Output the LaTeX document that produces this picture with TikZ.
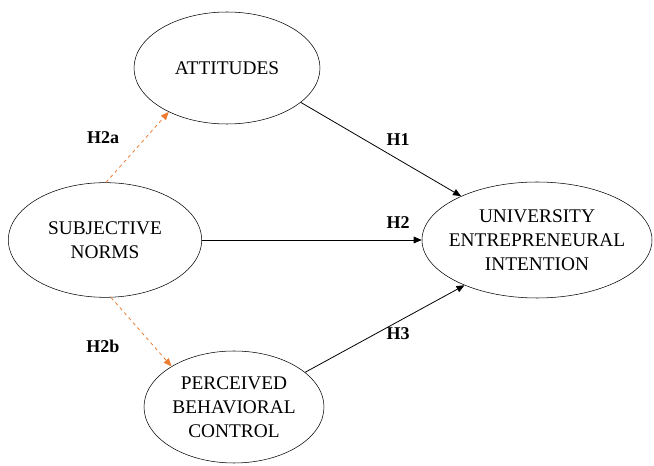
\documentclass[tikz,border=0pt]{standalone}
\usepackage{fontspec}
\setmainfont{Liberation Serif}
\usepackage{xcolor}
\usetikzlibrary{arrows.meta,shapes.geometric}
\definecolor{hypo}{RGB}{237,125,49}

\begin{document}
\begin{tikzpicture}[
  x=0.75pt, y=-0.75pt,
  construct/.style={draw, ellipse, align=center, inner xsep=-10pt, inner ysep=0pt, font=\fontsize{14.5}{18}\selectfont},
  arr/.style={-{Triangle[length=6pt,width=5pt]}, semithick},
  med/.style={-{Triangle[length=6pt,width=5pt]}, hypo, semithick, dash pattern=on 2.5pt off 2.5pt},
  lbl/.style={font=\bfseries\fontsize{13.5}{15}\selectfont},
]
\useasboundingbox (0,0) rectangle (654,466);

\node[construct, minimum width=139.5pt, minimum height=84pt] (att) at (227,68) {ATTITUDES};
\node[construct, minimum width=145pt, minimum height=86pt] (sn) at (105,240) {SUBJECTIVE\\NORMS};
\node[construct, minimum width=172.5pt, minimum height=87pt] (uei) at (537,240) {UNIVERSITY\\ENTREPRENEURAL\\INTENTION};
\node[construct, minimum width=135pt, minimum height=84pt] (pbc) at (234,407) {PERCEIVED\\BEHAVIORAL\\CONTROL};

\draw[arr] (att.-25) -- (uei.150);
\draw[arr] (sn.east) -- (uei.west);
\draw[arr] (pbc.26) -- (uei.-148);
\draw[med] (sn.89) -- (att.217);
\draw[med] (sn.-84) -- (pbc.147);

\node[lbl] (h2a) at (103,138) {H2a};
\node[lbl] (h2b) at (103,346) {H2b};
\node[lbl] (h1) at (398,140) {H1};
\node[lbl] (h2) at (398,223) {H2};
\node[lbl] (h3) at (398,334) {H3};
\end{tikzpicture}
\end{document}
